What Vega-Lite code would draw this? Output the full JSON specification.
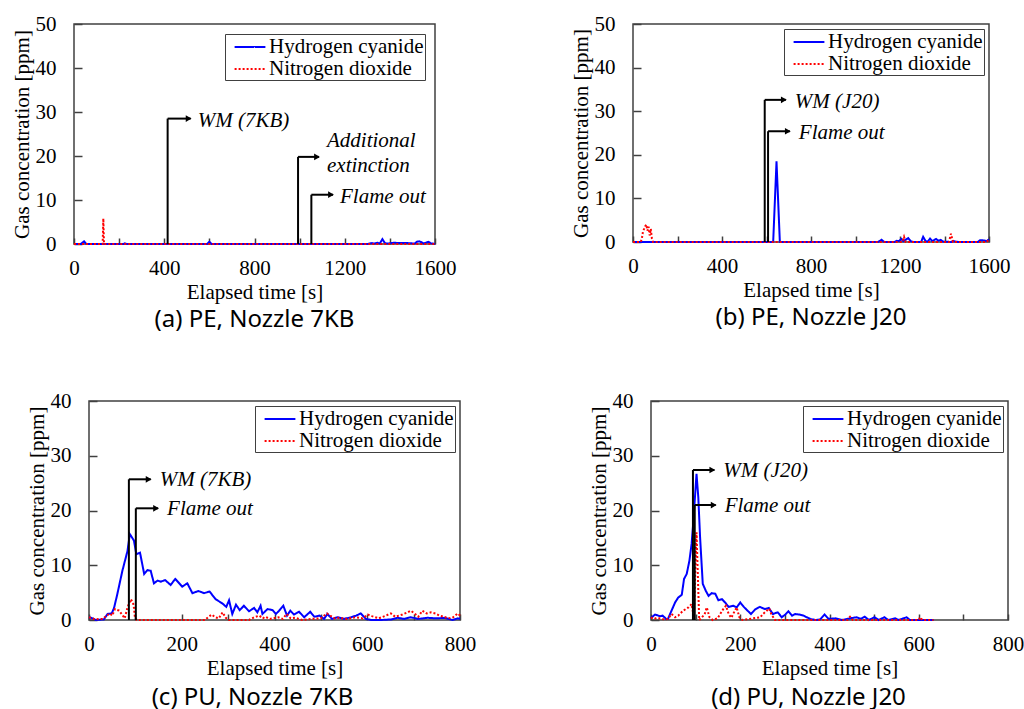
{
  "$schema": "https://vega.github.io/schema/vega-lite/v6.json",
  "background": "white",
  "padding": {"left": 10, "top": 12, "right": 2, "bottom": 2},
  "config": {
    "view": {"stroke": "#404040", "strokeWidth": 1.5},
    "axis": {"labelFont": "Liberation Serif", "labelFontSize": 21, "labelColor": "black", "titleFont": "Liberation Serif", "titleFontSize": 21, "titleFontWeight": "normal", "titleColor": "black", "domain": false, "grid": false, "tickColor": "#404040", "tickWidth": 1.5, "labelFlush": false, "labelOverlap": false},
    "axisX": {"tickSize": -6, "labelPadding": 19, "titlePadding": 3},
    "axisY": {"tickSize": -8, "labelPadding": 26, "titlePadding": 3},
    "legend": {"orient": "top-right", "offset": 5, "strokeColor": "#404040", "fillColor": "white", "padding": 1, "labelFont": "Liberation Serif", "labelFontSize": 21, "labelColor": "black", "symbolType": "M-1.4,0H1.4", "symbolSize": 484, "symbolStrokeWidth": 2, "labelOffset": 7, "rowPadding": 0, "symbolOffset": 12},
    "title": {"font": "Noto Sans", "fontSize": 24, "fontWeight": "normal", "color": "black", "orient": "bottom", "anchor": "middle", "offset": 6}
  },
  "columns": 1,
  "align": "none",
  "spacing": 56,
  "resolve": {"scale": {"color": "independent", "strokeDash": "independent"}, "legend": {"color": "independent", "strokeDash": "independent"}},
  "concat": [
    {
      "spacing": 112,
      "resolve": {"scale": {"color": "independent", "strokeDash": "independent"}, "legend": {"color": "independent", "strokeDash": "independent"}},
      "hconcat": [
        {
          "width": 361, "height": 220,
          "title": {"text": "(a) PE, Nozzle 7KB"},
          "layer": [
            {
              "data": {"values": [
                {"gas": "Hydrogen cyanide", "t": 0, "c": 0}, {"gas": "Hydrogen cyanide", "t": 30, "c": 0}, {"gas": "Hydrogen cyanide", "t": 45, "c": 0.6}, {"gas": "Hydrogen cyanide", "t": 55, "c": 0},
                {"gas": "Hydrogen cyanide", "t": 220, "c": 0}, {"gas": "Hydrogen cyanide", "t": 225, "c": 0.15}, {"gas": "Hydrogen cyanide", "t": 232, "c": 0},
                {"gas": "Hydrogen cyanide", "t": 590, "c": 0}, {"gas": "Hydrogen cyanide", "t": 600, "c": 0.5}, {"gas": "Hydrogen cyanide", "t": 610, "c": 0},
                {"gas": "Hydrogen cyanide", "t": 1300, "c": 0}, {"gas": "Hydrogen cyanide", "t": 1320, "c": 0.2}, {"gas": "Hydrogen cyanide", "t": 1330, "c": 0.1}, {"gas": "Hydrogen cyanide", "t": 1345, "c": 0.3},
                {"gas": "Hydrogen cyanide", "t": 1355, "c": 0.1}, {"gas": "Hydrogen cyanide", "t": 1367, "c": 1.1}, {"gas": "Hydrogen cyanide", "t": 1378, "c": 0.2}, {"gas": "Hydrogen cyanide", "t": 1390, "c": 0.1},
                {"gas": "Hydrogen cyanide", "t": 1420, "c": 0.3}, {"gas": "Hydrogen cyanide", "t": 1440, "c": 0.2}, {"gas": "Hydrogen cyanide", "t": 1480, "c": 0.2}, {"gas": "Hydrogen cyanide", "t": 1510, "c": 0.1},
                {"gas": "Hydrogen cyanide", "t": 1520, "c": 0.5}, {"gas": "Hydrogen cyanide", "t": 1530, "c": 0.6}, {"gas": "Hydrogen cyanide", "t": 1540, "c": 0.4}, {"gas": "Hydrogen cyanide", "t": 1550, "c": 0.1},
                {"gas": "Hydrogen cyanide", "t": 1570, "c": 0.5}, {"gas": "Hydrogen cyanide", "t": 1580, "c": 0.2}, {"gas": "Hydrogen cyanide", "t": 1590, "c": 0.1}, {"gas": "Hydrogen cyanide", "t": 1600, "c": 0},
                {"gas": "Nitrogen dioxide", "t": 0, "c": 0}, {"gas": "Nitrogen dioxide", "t": 127, "c": 0}, {"gas": "Nitrogen dioxide", "t": 130, "c": 5.8}, {"gas": "Nitrogen dioxide", "t": 133, "c": 0}, {"gas": "Nitrogen dioxide", "t": 1600, "c": 0}
              ]},
              "mark": {"type": "line", "strokeWidth": 2},
              "encoding": {
                "x": {"field": "t", "type": "quantitative", "scale": {"domain": [0, 1600], "nice": false}, "axis": {"title": "Elapsed time [s]", "format": "d", "values": [0,100,200,300,400,500,600,700,800,900,1000,1100,1200,1300,1400,1500,1600], "labelExpr": "datum.value % 400 === 0 ? datum.label : ''"}},
                "y": {"field": "c", "type": "quantitative", "scale": {"domain": [0, 50], "nice": false}, "axis": {"title": "Gas concentration [ppm]", "values": [0,10,20,30,40,50]}},
                "color": {"field": "gas", "type": "nominal", "scale": {"domain": ["Hydrogen cyanide", "Nitrogen dioxide"], "range": ["#0000ff", "#ff0000"]}, "legend": {"title": null, "offset": 10, "labelExpr": "datum.label + '  '"}},
                "strokeDash": {"field": "gas", "type": "nominal", "scale": {"domain": ["Hydrogen cyanide", "Nitrogen dioxide"], "range": [[1, 0], [2, 2]]}, "legend": {"title": null, "offset": 10, "labelExpr": "datum.label + '  '"}}
              }
            },
            {
              "data": {"values": [
                {"t": 415, "tend": 517, "level": 28.5, "label": "WM (7KB)"},
                {"t": 993, "tend": 1086, "level": 19.8, "label": "Additional\nextinction"},
                {"t": 1052, "tend": 1148, "level": 11.2, "label": "Flame out"}
              ]},
              "layer": [
                {"mark": {"type": "rule", "color": "black", "strokeWidth": 2}, "encoding": {"x": {"field": "t", "type": "quantitative"}, "y": {"field": "level", "type": "quantitative"}, "y2": {"datum": 0}}},
                {"mark": {"type": "rule", "color": "black", "strokeWidth": 2}, "encoding": {"x": {"field": "t", "type": "quantitative"}, "x2": {"field": "tend"}, "y": {"field": "level", "type": "quantitative"}}},
                {"mark": {"type": "point", "shape": "triangle-right", "filled": true, "color": "black", "opacity": 1, "size": 45, "xOffset": -2}, "encoding": {"x": {"field": "tend", "type": "quantitative"}, "y": {"field": "level", "type": "quantitative"}}},
                {"transform": [{"filter": "indexof(datum.label, '\\n') < 0"}], "mark": {"type": "text", "align": "left", "baseline": "middle", "dx": 7, "dy": 2, "font": "Liberation Serif", "fontStyle": "italic", "fontSize": 21, "color": "black"}, "encoding": {"x": {"field": "tend", "type": "quantitative"}, "y": {"field": "level", "type": "quantitative"}, "text": {"field": "label"}}},
                {"transform": [{"filter": "indexof(datum.label, '\\n') >= 0"}], "mark": {"type": "text", "align": "left", "baseline": "middle", "dx": 8, "dy": -16, "font": "Liberation Serif", "fontStyle": "italic", "fontSize": 21, "lineBreak": "\n", "lineHeight": 25, "color": "black"}, "encoding": {"x": {"field": "tend", "type": "quantitative"}, "y": {"field": "level", "type": "quantitative"}, "text": {"field": "label"}}}
              ]
            }
          ]
        },
        {
          "width": 356, "height": 218,
          "title": {"text": "(b) PE, Nozzle J20"},
          "layer": [
            {
              "data": {"values": [
                {"gas": "Hydrogen cyanide", "t": 0, "c": 0}, {"gas": "Hydrogen cyanide", "t": 630, "c": 0}, {"gas": "Hydrogen cyanide", "t": 645, "c": 18.5}, {"gas": "Hydrogen cyanide", "t": 660, "c": 0},
                {"gas": "Hydrogen cyanide", "t": 1100, "c": 0}, {"gas": "Hydrogen cyanide", "t": 1117, "c": 0.5}, {"gas": "Hydrogen cyanide", "t": 1130, "c": 0}, {"gas": "Hydrogen cyanide", "t": 1175, "c": 0},
                {"gas": "Hydrogen cyanide", "t": 1185, "c": 0.3}, {"gas": "Hydrogen cyanide", "t": 1195, "c": 0.2}, {"gas": "Hydrogen cyanide", "t": 1207, "c": 0.7}, {"gas": "Hydrogen cyanide", "t": 1215, "c": 0.2},
                {"gas": "Hydrogen cyanide", "t": 1225, "c": 0.5}, {"gas": "Hydrogen cyanide", "t": 1237, "c": 0.9}, {"gas": "Hydrogen cyanide", "t": 1248, "c": 0.2}, {"gas": "Hydrogen cyanide", "t": 1260, "c": 0},
                {"gas": "Hydrogen cyanide", "t": 1295, "c": 0}, {"gas": "Hydrogen cyanide", "t": 1304, "c": 1.2}, {"gas": "Hydrogen cyanide", "t": 1315, "c": 0.2}, {"gas": "Hydrogen cyanide", "t": 1325, "c": 0.1},
                {"gas": "Hydrogen cyanide", "t": 1335, "c": 0.8}, {"gas": "Hydrogen cyanide", "t": 1345, "c": 0.2}, {"gas": "Hydrogen cyanide", "t": 1352, "c": 0.4}, {"gas": "Hydrogen cyanide", "t": 1362, "c": 0.7},
                {"gas": "Hydrogen cyanide", "t": 1372, "c": 0.3}, {"gas": "Hydrogen cyanide", "t": 1383, "c": 0.5}, {"gas": "Hydrogen cyanide", "t": 1393, "c": 0.1}, {"gas": "Hydrogen cyanide", "t": 1430, "c": 0},
                {"gas": "Hydrogen cyanide", "t": 1440, "c": 0.2}, {"gas": "Hydrogen cyanide", "t": 1460, "c": 0}, {"gas": "Hydrogen cyanide", "t": 1550, "c": 0}, {"gas": "Hydrogen cyanide", "t": 1560, "c": 0.4},
                {"gas": "Hydrogen cyanide", "t": 1570, "c": 0.4}, {"gas": "Hydrogen cyanide", "t": 1582, "c": 0.3}, {"gas": "Hydrogen cyanide", "t": 1590, "c": 0.2}, {"gas": "Hydrogen cyanide", "t": 1600, "c": 0.6},
                {"gas": "Nitrogen dioxide", "t": 0, "c": 0}, {"gas": "Nitrogen dioxide", "t": 35, "c": 0}, {"gas": "Nitrogen dioxide", "t": 40, "c": 0.8}, {"gas": "Nitrogen dioxide", "t": 45, "c": 2.5},
                {"gas": "Nitrogen dioxide", "t": 50, "c": 3.0}, {"gas": "Nitrogen dioxide", "t": 55, "c": 3.6}, {"gas": "Nitrogen dioxide", "t": 60, "c": 4.0}, {"gas": "Nitrogen dioxide", "t": 65, "c": 2.6},
                {"gas": "Nitrogen dioxide", "t": 70, "c": 3.5}, {"gas": "Nitrogen dioxide", "t": 75, "c": 1.5}, {"gas": "Nitrogen dioxide", "t": 80, "c": 3.0}, {"gas": "Nitrogen dioxide", "t": 85, "c": 0.8},
                {"gas": "Nitrogen dioxide", "t": 90, "c": 0}, {"gas": "Nitrogen dioxide", "t": 1210, "c": 0}, {"gas": "Nitrogen dioxide", "t": 1218, "c": 1.2}, {"gas": "Nitrogen dioxide", "t": 1225, "c": 0},
                {"gas": "Nitrogen dioxide", "t": 1420, "c": 0}, {"gas": "Nitrogen dioxide", "t": 1429, "c": 1.9}, {"gas": "Nitrogen dioxide", "t": 1438, "c": 0}, {"gas": "Nitrogen dioxide", "t": 1590, "c": 0},
                {"gas": "Nitrogen dioxide", "t": 1600, "c": 0.7}
              ]},
              "mark": {"type": "line", "strokeWidth": 2},
              "encoding": {
                "x": {"field": "t", "type": "quantitative", "scale": {"domain": [0, 1600], "nice": false}, "axis": {"title": "Elapsed time [s]", "format": "d", "values": [0,100,200,300,400,500,600,700,800,900,1000,1100,1200,1300,1400,1500,1600], "labelExpr": "datum.value % 400 === 0 ? datum.label : ''"}},
                "y": {"field": "c", "type": "quantitative", "scale": {"domain": [0, 50], "nice": false}, "axis": {"title": "Gas concentration [ppm]", "values": [0,10,20,30,40,50]}},
                "color": {"field": "gas", "type": "nominal", "scale": {"domain": ["Hydrogen cyanide", "Nitrogen dioxide"], "range": ["#0000ff", "#ff0000"]}, "legend": {"title": null, "labelExpr": "datum.label + '  '"}},
                "strokeDash": {"field": "gas", "type": "nominal", "scale": {"domain": ["Hydrogen cyanide", "Nitrogen dioxide"], "range": [[1, 0], [2, 2]]}, "legend": {"title": null, "labelExpr": "datum.label + '  '"}}
              }
            },
            {
              "data": {"values": [
                {"t": 592, "tend": 687, "level": 32.6, "label": "WM (J20)"},
                {"t": 607, "tend": 705, "level": 25.4, "label": "Flame out"}
              ]},
              "layer": [
                {"mark": {"type": "rule", "color": "black", "strokeWidth": 2}, "encoding": {"x": {"field": "t", "type": "quantitative"}, "y": {"field": "level", "type": "quantitative"}, "y2": {"datum": 0}}},
                {"mark": {"type": "rule", "color": "black", "strokeWidth": 2}, "encoding": {"x": {"field": "t", "type": "quantitative"}, "x2": {"field": "tend"}, "y": {"field": "level", "type": "quantitative"}}},
                {"mark": {"type": "point", "shape": "triangle-right", "filled": true, "color": "black", "opacity": 1, "size": 45, "xOffset": -2}, "encoding": {"x": {"field": "tend", "type": "quantitative"}, "y": {"field": "level", "type": "quantitative"}}},
                {"mark": {"type": "text", "align": "left", "baseline": "middle", "dx": 9, "dy": 2, "font": "Liberation Serif", "fontStyle": "italic", "fontSize": 21, "color": "black"}, "encoding": {"x": {"field": "tend", "type": "quantitative"}, "y": {"field": "level", "type": "quantitative"}, "text": {"field": "label"}}}
              ]
            }
          ]
        }
      ]
    },
    {
      "spacing": 110,
      "resolve": {"scale": {"color": "independent", "strokeDash": "independent"}, "legend": {"color": "independent", "strokeDash": "independent"}},
      "hconcat": [
        {
          "spacing": -54,
          "resolve": {"scale": {"color": "independent", "strokeDash": "independent"}, "legend": {"color": "independent", "strokeDash": "independent"}},
          "hconcat": [
            {"width": 5, "height": 10, "view": {"stroke": null}, "data": {"values": []}, "mark": "point"},
            {
              "width": 371, "height": 219,
              "title": {"text": "(c) PU, Nozzle 7KB", "dx": -22, "offset": 8},
              "layer": [
                {
                  "data": {"values": [
                    {"gas": "Hydrogen cyanide", "t": 0, "c": 0.5}, {"gas": "Hydrogen cyanide", "t": 8, "c": 0.3}, {"gas": "Hydrogen cyanide", "t": 15, "c": 0}, {"gas": "Hydrogen cyanide", "t": 32, "c": 0.1},
                    {"gas": "Hydrogen cyanide", "t": 40, "c": 1.1}, {"gas": "Hydrogen cyanide", "t": 49, "c": 1.2}, {"gas": "Hydrogen cyanide", "t": 54, "c": 2.2}, {"gas": "Hydrogen cyanide", "t": 61, "c": 4.7},
                    {"gas": "Hydrogen cyanide", "t": 72, "c": 9.0}, {"gas": "Hydrogen cyanide", "t": 83, "c": 12.6}, {"gas": "Hydrogen cyanide", "t": 88, "c": 15.7}, {"gas": "Hydrogen cyanide", "t": 97, "c": 14.5},
                    {"gas": "Hydrogen cyanide", "t": 102, "c": 12.0}, {"gas": "Hydrogen cyanide", "t": 110, "c": 12.3}, {"gas": "Hydrogen cyanide", "t": 119, "c": 8.4}, {"gas": "Hydrogen cyanide", "t": 126, "c": 9.1},
                    {"gas": "Hydrogen cyanide", "t": 133, "c": 9.0}, {"gas": "Hydrogen cyanide", "t": 140, "c": 6.7}, {"gas": "Hydrogen cyanide", "t": 148, "c": 7.2}, {"gas": "Hydrogen cyanide", "t": 155, "c": 7.0},
                    {"gas": "Hydrogen cyanide", "t": 164, "c": 7.3}, {"gas": "Hydrogen cyanide", "t": 176, "c": 6.4}, {"gas": "Hydrogen cyanide", "t": 186, "c": 7.5}, {"gas": "Hydrogen cyanide", "t": 201, "c": 6.1},
                    {"gas": "Hydrogen cyanide", "t": 212, "c": 6.7}, {"gas": "Hydrogen cyanide", "t": 223, "c": 4.9}, {"gas": "Hydrogen cyanide", "t": 236, "c": 5.3}, {"gas": "Hydrogen cyanide", "t": 248, "c": 4.9},
                    {"gas": "Hydrogen cyanide", "t": 260, "c": 5.2}, {"gas": "Hydrogen cyanide", "t": 273, "c": 3.8}, {"gas": "Hydrogen cyanide", "t": 288, "c": 3.0}, {"gas": "Hydrogen cyanide", "t": 296, "c": 2.4},
                    {"gas": "Hydrogen cyanide", "t": 302, "c": 3.6}, {"gas": "Hydrogen cyanide", "t": 309, "c": 1.1}, {"gas": "Hydrogen cyanide", "t": 317, "c": 2.8}, {"gas": "Hydrogen cyanide", "t": 325, "c": 1.8},
                    {"gas": "Hydrogen cyanide", "t": 334, "c": 2.6}, {"gas": "Hydrogen cyanide", "t": 345, "c": 1.6}, {"gas": "Hydrogen cyanide", "t": 356, "c": 2.2}, {"gas": "Hydrogen cyanide", "t": 363, "c": 1.4},
                    {"gas": "Hydrogen cyanide", "t": 370, "c": 2.6}, {"gas": "Hydrogen cyanide", "t": 374, "c": 1.1}, {"gas": "Hydrogen cyanide", "t": 385, "c": 2.0}, {"gas": "Hydrogen cyanide", "t": 396, "c": 1.8},
                    {"gas": "Hydrogen cyanide", "t": 403, "c": 1.1}, {"gas": "Hydrogen cyanide", "t": 410, "c": 1.7}, {"gas": "Hydrogen cyanide", "t": 419, "c": 2.6}, {"gas": "Hydrogen cyanide", "t": 427, "c": 0.8},
                    {"gas": "Hydrogen cyanide", "t": 434, "c": 1.7}, {"gas": "Hydrogen cyanide", "t": 442, "c": 1.0}, {"gas": "Hydrogen cyanide", "t": 453, "c": 1.5}, {"gas": "Hydrogen cyanide", "t": 464, "c": 0.5},
                    {"gas": "Hydrogen cyanide", "t": 477, "c": 1.5}, {"gas": "Hydrogen cyanide", "t": 486, "c": 0.6}, {"gas": "Hydrogen cyanide", "t": 497, "c": 0.8}, {"gas": "Hydrogen cyanide", "t": 507, "c": 0.2},
                    {"gas": "Hydrogen cyanide", "t": 514, "c": 1.1}, {"gas": "Hydrogen cyanide", "t": 524, "c": 0.2}, {"gas": "Hydrogen cyanide", "t": 536, "c": 0.5}, {"gas": "Hydrogen cyanide", "t": 550, "c": 0.2},
                    {"gas": "Hydrogen cyanide", "t": 565, "c": 0.5}, {"gas": "Hydrogen cyanide", "t": 576, "c": 0.8}, {"gas": "Hydrogen cyanide", "t": 586, "c": 1.2}, {"gas": "Hydrogen cyanide", "t": 597, "c": 0.2},
                    {"gas": "Hydrogen cyanide", "t": 608, "c": 0}, {"gas": "Hydrogen cyanide", "t": 629, "c": 0}, {"gas": "Hydrogen cyanide", "t": 651, "c": 0.1}, {"gas": "Hydrogen cyanide", "t": 665, "c": 0.4},
                    {"gas": "Hydrogen cyanide", "t": 680, "c": 0.2}, {"gas": "Hydrogen cyanide", "t": 694, "c": 0.5}, {"gas": "Hydrogen cyanide", "t": 709, "c": 0.2}, {"gas": "Hydrogen cyanide", "t": 730, "c": 0.4},
                    {"gas": "Hydrogen cyanide", "t": 751, "c": 0.3}, {"gas": "Hydrogen cyanide", "t": 766, "c": 0.4}, {"gas": "Hydrogen cyanide", "t": 784, "c": 0}, {"gas": "Hydrogen cyanide", "t": 795, "c": 0.3},
                    {"gas": "Hydrogen cyanide", "t": 800, "c": 0.2},
                    {"gas": "Nitrogen dioxide", "t": 0, "c": 0.5}, {"gas": "Nitrogen dioxide", "t": 7, "c": 0.3}, {"gas": "Nitrogen dioxide", "t": 14, "c": 0.1}, {"gas": "Nitrogen dioxide", "t": 21, "c": 0.2},
                    {"gas": "Nitrogen dioxide", "t": 30, "c": 0.2}, {"gas": "Nitrogen dioxide", "t": 38, "c": 0.8}, {"gas": "Nitrogen dioxide", "t": 45, "c": 1.2}, {"gas": "Nitrogen dioxide", "t": 50, "c": 0.8},
                    {"gas": "Nitrogen dioxide", "t": 56, "c": 2.0}, {"gas": "Nitrogen dioxide", "t": 65, "c": 1.7}, {"gas": "Nitrogen dioxide", "t": 73, "c": 0.8}, {"gas": "Nitrogen dioxide", "t": 77, "c": 0.3},
                    {"gas": "Nitrogen dioxide", "t": 83, "c": 2.3}, {"gas": "Nitrogen dioxide", "t": 90, "c": 3.8}, {"gas": "Nitrogen dioxide", "t": 95, "c": 3.2}, {"gas": "Nitrogen dioxide", "t": 97, "c": 2.2},
                    {"gas": "Nitrogen dioxide", "t": 99, "c": 0.4}, {"gas": "Nitrogen dioxide", "t": 103, "c": 0}, {"gas": "Nitrogen dioxide", "t": 250, "c": 0}, {"gas": "Nitrogen dioxide", "t": 258, "c": 0.6},
                    {"gas": "Nitrogen dioxide", "t": 265, "c": 1.0}, {"gas": "Nitrogen dioxide", "t": 272, "c": 0.5}, {"gas": "Nitrogen dioxide", "t": 280, "c": 0.3}, {"gas": "Nitrogen dioxide", "t": 288, "c": 1.4},
                    {"gas": "Nitrogen dioxide", "t": 295, "c": 0.4}, {"gas": "Nitrogen dioxide", "t": 302, "c": 0}, {"gas": "Nitrogen dioxide", "t": 345, "c": 0}, {"gas": "Nitrogen dioxide", "t": 356, "c": 0.5},
                    {"gas": "Nitrogen dioxide", "t": 367, "c": 0.8}, {"gas": "Nitrogen dioxide", "t": 375, "c": 0.3}, {"gas": "Nitrogen dioxide", "t": 380, "c": 0.6}, {"gas": "Nitrogen dioxide", "t": 390, "c": 0.2},
                    {"gas": "Nitrogen dioxide", "t": 408, "c": 0.5}, {"gas": "Nitrogen dioxide", "t": 418, "c": 0.2}, {"gas": "Nitrogen dioxide", "t": 426, "c": 1.1}, {"gas": "Nitrogen dioxide", "t": 435, "c": 0.3},
                    {"gas": "Nitrogen dioxide", "t": 445, "c": 0.4}, {"gas": "Nitrogen dioxide", "t": 460, "c": 0}, {"gas": "Nitrogen dioxide", "t": 480, "c": 0.2}, {"gas": "Nitrogen dioxide", "t": 500, "c": 0.3},
                    {"gas": "Nitrogen dioxide", "t": 513, "c": 1.2}, {"gas": "Nitrogen dioxide", "t": 520, "c": 0.8}, {"gas": "Nitrogen dioxide", "t": 530, "c": 0.3}, {"gas": "Nitrogen dioxide", "t": 540, "c": 0.4},
                    {"gas": "Nitrogen dioxide", "t": 555, "c": 0.2}, {"gas": "Nitrogen dioxide", "t": 575, "c": 0.5}, {"gas": "Nitrogen dioxide", "t": 590, "c": 0.3}, {"gas": "Nitrogen dioxide", "t": 601, "c": 1.0},
                    {"gas": "Nitrogen dioxide", "t": 610, "c": 0.7}, {"gas": "Nitrogen dioxide", "t": 625, "c": 0.3}, {"gas": "Nitrogen dioxide", "t": 640, "c": 0.8}, {"gas": "Nitrogen dioxide", "t": 651, "c": 1.2},
                    {"gas": "Nitrogen dioxide", "t": 660, "c": 0.6}, {"gas": "Nitrogen dioxide", "t": 668, "c": 0.8}, {"gas": "Nitrogen dioxide", "t": 676, "c": 1.0}, {"gas": "Nitrogen dioxide", "t": 687, "c": 1.4},
                    {"gas": "Nitrogen dioxide", "t": 694, "c": 1.7}, {"gas": "Nitrogen dioxide", "t": 702, "c": 1.2}, {"gas": "Nitrogen dioxide", "t": 710, "c": 0.6}, {"gas": "Nitrogen dioxide", "t": 719, "c": 1.7},
                    {"gas": "Nitrogen dioxide", "t": 728, "c": 1.2}, {"gas": "Nitrogen dioxide", "t": 737, "c": 1.4}, {"gas": "Nitrogen dioxide", "t": 747, "c": 1.2}, {"gas": "Nitrogen dioxide", "t": 756, "c": 0.8},
                    {"gas": "Nitrogen dioxide", "t": 765, "c": 0.6}, {"gas": "Nitrogen dioxide", "t": 775, "c": 0.3}, {"gas": "Nitrogen dioxide", "t": 785, "c": 0.5}, {"gas": "Nitrogen dioxide", "t": 795, "c": 1.2},
                    {"gas": "Nitrogen dioxide", "t": 800, "c": 0.8}
                  ]},
                  "mark": {"type": "line", "strokeWidth": 2},
                  "encoding": {
                    "x": {"field": "t", "type": "quantitative", "scale": {"domain": [0, 800], "nice": false}, "axis": {"title": "Elapsed time [s]", "format": "d", "values": [0,50,100,150,200,250,300,350,400,450,500,550,600,650,700,750,800], "labelExpr": "datum.value % 200 === 0 ? datum.label : ''"}},
                    "y": {"field": "c", "type": "quantitative", "scale": {"domain": [0, 40], "nice": false}, "axis": {"title": "Gas concentration [ppm]", "values": [0,10,20,30,40]}},
                    "color": {"field": "gas", "type": "nominal", "scale": {"domain": ["Hydrogen cyanide", "Nitrogen dioxide"], "range": ["#0000ff", "#ff0000"]}, "legend": {"title": null, "labelExpr": "datum.label + '  '"}},
                    "strokeDash": {"field": "gas", "type": "nominal", "scale": {"domain": ["Hydrogen cyanide", "Nitrogen dioxide"], "range": [[1, 0], [2, 2]]}, "legend": {"title": null, "labelExpr": "datum.label + '  '"}}
                  }
                },
                {
                  "data": {"values": [
                    {"t": 86, "tend": 133, "level": 25.7, "label": "WM (7KB)"},
                    {"t": 101, "tend": 149, "level": 20.4, "label": "Flame out"}
                  ]},
                  "layer": [
                    {"mark": {"type": "rule", "color": "black", "strokeWidth": 2}, "encoding": {"x": {"field": "t", "type": "quantitative"}, "y": {"field": "level", "type": "quantitative"}, "y2": {"datum": 0}}},
                    {"mark": {"type": "rule", "color": "black", "strokeWidth": 2}, "encoding": {"x": {"field": "t", "type": "quantitative"}, "x2": {"field": "tend"}, "y": {"field": "level", "type": "quantitative"}}},
                    {"mark": {"type": "point", "shape": "triangle-right", "filled": true, "color": "black", "opacity": 1, "size": 45, "xOffset": -2}, "encoding": {"x": {"field": "tend", "type": "quantitative"}, "y": {"field": "level", "type": "quantitative"}}},
                    {"mark": {"type": "text", "align": "left", "baseline": "middle", "dx": 9, "dy": 1, "font": "Liberation Serif", "fontStyle": "italic", "fontSize": 21, "color": "black"}, "encoding": {"x": {"field": "tend", "type": "quantitative"}, "y": {"field": "level", "type": "quantitative"}, "text": {"field": "label"}}}
                  ]
                }
              ]
            }
          ]
        },
        {
          "width": 357, "height": 219,
          "title": {"text": "(d) PU, Nozzle J20", "dx": -21, "offset": 8},
          "layer": [
            {
              "data": {"values": [
                {"gas": "Hydrogen cyanide", "t": 0, "c": 0.3}, {"gas": "Hydrogen cyanide", "t": 2, "c": 0.5}, {"gas": "Hydrogen cyanide", "t": 9, "c": 1.0}, {"gas": "Hydrogen cyanide", "t": 20, "c": 0.7},
                {"gas": "Hydrogen cyanide", "t": 26, "c": 0.8}, {"gas": "Hydrogen cyanide", "t": 34, "c": 0.2}, {"gas": "Hydrogen cyanide", "t": 38, "c": 0.2}, {"gas": "Hydrogen cyanide", "t": 46, "c": 1.7},
                {"gas": "Hydrogen cyanide", "t": 54, "c": 3.2}, {"gas": "Hydrogen cyanide", "t": 61, "c": 4.1}, {"gas": "Hydrogen cyanide", "t": 69, "c": 4.6}, {"gas": "Hydrogen cyanide", "t": 74, "c": 7.5},
                {"gas": "Hydrogen cyanide", "t": 80, "c": 8.4}, {"gas": "Hydrogen cyanide", "t": 86, "c": 10.8}, {"gas": "Hydrogen cyanide", "t": 91, "c": 13.9}, {"gas": "Hydrogen cyanide", "t": 95, "c": 18.1},
                {"gas": "Hydrogen cyanide", "t": 102, "c": 26.7}, {"gas": "Hydrogen cyanide", "t": 106, "c": 22.4}, {"gas": "Hydrogen cyanide", "t": 110, "c": 15.1}, {"gas": "Hydrogen cyanide", "t": 116, "c": 6.6},
                {"gas": "Hydrogen cyanide", "t": 123, "c": 5.3}, {"gas": "Hydrogen cyanide", "t": 129, "c": 4.4}, {"gas": "Hydrogen cyanide", "t": 136, "c": 4.9}, {"gas": "Hydrogen cyanide", "t": 144, "c": 4.8},
                {"gas": "Hydrogen cyanide", "t": 151, "c": 3.6}, {"gas": "Hydrogen cyanide", "t": 159, "c": 3.8}, {"gas": "Hydrogen cyanide", "t": 166, "c": 3.2}, {"gas": "Hydrogen cyanide", "t": 174, "c": 2.4},
                {"gas": "Hydrogen cyanide", "t": 185, "c": 2.6}, {"gas": "Hydrogen cyanide", "t": 192, "c": 2.3}, {"gas": "Hydrogen cyanide", "t": 200, "c": 3.2}, {"gas": "Hydrogen cyanide", "t": 208, "c": 2.4},
                {"gas": "Hydrogen cyanide", "t": 214, "c": 1.9}, {"gas": "Hydrogen cyanide", "t": 224, "c": 1.1}, {"gas": "Hydrogen cyanide", "t": 233, "c": 1.9}, {"gas": "Hydrogen cyanide", "t": 244, "c": 2.4},
                {"gas": "Hydrogen cyanide", "t": 255, "c": 2.0}, {"gas": "Hydrogen cyanide", "t": 264, "c": 2.2}, {"gas": "Hydrogen cyanide", "t": 273, "c": 1.1}, {"gas": "Hydrogen cyanide", "t": 284, "c": 1.4},
                {"gas": "Hydrogen cyanide", "t": 293, "c": 0.5}, {"gas": "Hydrogen cyanide", "t": 301, "c": 1.0}, {"gas": "Hydrogen cyanide", "t": 308, "c": 1.6}, {"gas": "Hydrogen cyanide", "t": 316, "c": 0.8},
                {"gas": "Hydrogen cyanide", "t": 323, "c": 1.1}, {"gas": "Hydrogen cyanide", "t": 332, "c": 1.0}, {"gas": "Hydrogen cyanide", "t": 342, "c": 0.8}, {"gas": "Hydrogen cyanide", "t": 349, "c": 0.5},
                {"gas": "Hydrogen cyanide", "t": 357, "c": 0.2}, {"gas": "Hydrogen cyanide", "t": 368, "c": 0}, {"gas": "Hydrogen cyanide", "t": 379, "c": 0.1}, {"gas": "Hydrogen cyanide", "t": 389, "c": 1.0},
                {"gas": "Hydrogen cyanide", "t": 398, "c": 0.2}, {"gas": "Hydrogen cyanide", "t": 413, "c": 0.3}, {"gas": "Hydrogen cyanide", "t": 428, "c": 0}, {"gas": "Hydrogen cyanide", "t": 446, "c": 0.3},
                {"gas": "Hydrogen cyanide", "t": 461, "c": 0.5}, {"gas": "Hydrogen cyanide", "t": 470, "c": 0.2}, {"gas": "Hydrogen cyanide", "t": 479, "c": 0.6}, {"gas": "Hydrogen cyanide", "t": 488, "c": 0},
                {"gas": "Hydrogen cyanide", "t": 501, "c": 0.5}, {"gas": "Hydrogen cyanide", "t": 510, "c": 0}, {"gas": "Hydrogen cyanide", "t": 523, "c": 0.5}, {"gas": "Hydrogen cyanide", "t": 532, "c": 0},
                {"gas": "Hydrogen cyanide", "t": 547, "c": 0.3}, {"gas": "Hydrogen cyanide", "t": 555, "c": 0}, {"gas": "Hydrogen cyanide", "t": 573, "c": 0.5}, {"gas": "Hydrogen cyanide", "t": 580, "c": 0},
                {"gas": "Hydrogen cyanide", "t": 611, "c": 0}, {"gas": "Hydrogen cyanide", "t": 633, "c": 0},
                {"gas": "Nitrogen dioxide", "t": 0, "c": 0.3}, {"gas": "Nitrogen dioxide", "t": 5, "c": 0.5}, {"gas": "Nitrogen dioxide", "t": 12, "c": 0.2}, {"gas": "Nitrogen dioxide", "t": 20, "c": 0.3},
                {"gas": "Nitrogen dioxide", "t": 30, "c": 0.1}, {"gas": "Nitrogen dioxide", "t": 38, "c": 0.2}, {"gas": "Nitrogen dioxide", "t": 46, "c": 1.1}, {"gas": "Nitrogen dioxide", "t": 54, "c": 0.5},
                {"gas": "Nitrogen dioxide", "t": 61, "c": 0.8}, {"gas": "Nitrogen dioxide", "t": 72, "c": 1.7}, {"gas": "Nitrogen dioxide", "t": 84, "c": 2.3}, {"gas": "Nitrogen dioxide", "t": 91, "c": 2.9},
                {"gas": "Nitrogen dioxide", "t": 96, "c": 0.5}, {"gas": "Nitrogen dioxide", "t": 102, "c": 16.0}, {"gas": "Nitrogen dioxide", "t": 108, "c": 0}, {"gas": "Nitrogen dioxide", "t": 120, "c": 1.0},
                {"gas": "Nitrogen dioxide", "t": 125, "c": 2.3}, {"gas": "Nitrogen dioxide", "t": 131, "c": 0.5}, {"gas": "Nitrogen dioxide", "t": 138, "c": 0}, {"gas": "Nitrogen dioxide", "t": 149, "c": 0.3},
                {"gas": "Nitrogen dioxide", "t": 162, "c": 2.0}, {"gas": "Nitrogen dioxide", "t": 168, "c": 2.6}, {"gas": "Nitrogen dioxide", "t": 174, "c": 1.1}, {"gas": "Nitrogen dioxide", "t": 180, "c": 0.4},
                {"gas": "Nitrogen dioxide", "t": 186, "c": 1.4}, {"gas": "Nitrogen dioxide", "t": 192, "c": 2.3}, {"gas": "Nitrogen dioxide", "t": 198, "c": 0.5}, {"gas": "Nitrogen dioxide", "t": 205, "c": 0},
                {"gas": "Nitrogen dioxide", "t": 245, "c": 0.5}, {"gas": "Nitrogen dioxide", "t": 251, "c": 1.1}, {"gas": "Nitrogen dioxide", "t": 265, "c": 2.1}, {"gas": "Nitrogen dioxide", "t": 270, "c": 1.0},
                {"gas": "Nitrogen dioxide", "t": 278, "c": 0}, {"gas": "Nitrogen dioxide", "t": 440, "c": 0}, {"gas": "Nitrogen dioxide", "t": 446, "c": 0.6}, {"gas": "Nitrogen dioxide", "t": 452, "c": 0},
                {"gas": "Nitrogen dioxide", "t": 600, "c": 0}, {"gas": "Nitrogen dioxide", "t": 603, "c": 0.5}, {"gas": "Nitrogen dioxide", "t": 608, "c": 0}, {"gas": "Nitrogen dioxide", "t": 633, "c": 0}
              ]},
              "mark": {"type": "line", "strokeWidth": 2},
              "encoding": {
                "x": {"field": "t", "type": "quantitative", "scale": {"domain": [0, 800], "nice": false}, "axis": {"title": "Elapsed time [s]", "format": "d", "values": [0,50,100,150,200,250,300,350,400,450,500,550,600,650,700,750,800], "labelExpr": "datum.value % 200 === 0 ? datum.label : ''"}},
                "y": {"field": "c", "type": "quantitative", "scale": {"domain": [0, 40], "nice": false}, "axis": {"title": "Gas concentration [ppm]", "values": [0,10,20,30,40]}},
                "color": {"field": "gas", "type": "nominal", "scale": {"domain": ["Hydrogen cyanide", "Nitrogen dioxide"], "range": ["#0000ff", "#ff0000"]}, "legend": {"title": null, "labelExpr": "datum.label + '  '"}},
                "strokeDash": {"field": "gas", "type": "nominal", "scale": {"domain": ["Hydrogen cyanide", "Nitrogen dioxide"], "range": [[1, 0], [2, 2]]}, "legend": {"title": null, "labelExpr": "datum.label + '  '"}}
              }
            },
            {
              "data": {"values": [
                {"t": 94, "tend": 142, "level": 27.4, "label": "WM (J20)"},
                {"t": 98, "tend": 145, "level": 21.0, "label": "Flame out"}
              ]},
              "layer": [
                {"mark": {"type": "rule", "color": "black", "strokeWidth": 2}, "encoding": {"x": {"field": "t", "type": "quantitative"}, "y": {"field": "level", "type": "quantitative"}, "y2": {"datum": 0}}},
                {"mark": {"type": "rule", "color": "black", "strokeWidth": 2}, "encoding": {"x": {"field": "t", "type": "quantitative"}, "x2": {"field": "tend"}, "y": {"field": "level", "type": "quantitative"}}},
                {"mark": {"type": "point", "shape": "triangle-right", "filled": true, "color": "black", "opacity": 1, "size": 45, "xOffset": -2}, "encoding": {"x": {"field": "tend", "type": "quantitative"}, "y": {"field": "level", "type": "quantitative"}}},
                {"mark": {"type": "text", "align": "left", "baseline": "middle", "dx": 9, "dy": 1, "font": "Liberation Serif", "fontStyle": "italic", "fontSize": 21, "color": "black"}, "encoding": {"x": {"field": "tend", "type": "quantitative"}, "y": {"field": "level", "type": "quantitative"}, "text": {"field": "label"}}}
              ]
            }
          ]
        }
      ]
    }
  ]
}
